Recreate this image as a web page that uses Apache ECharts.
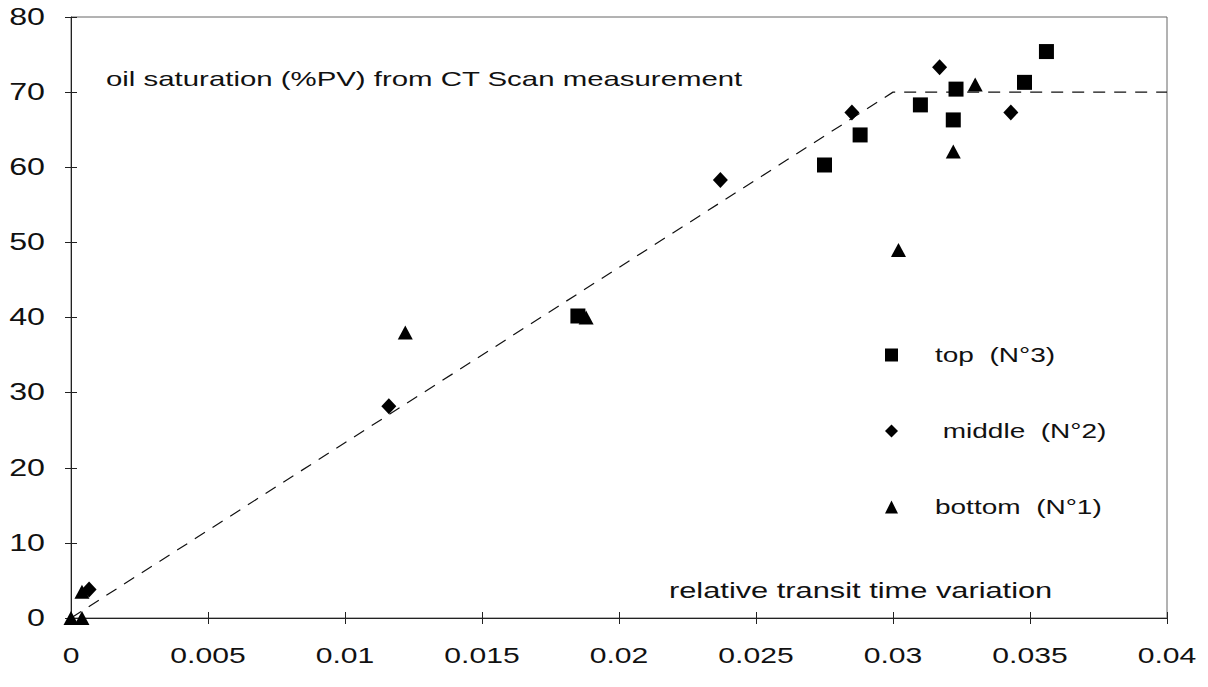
<!DOCTYPE html>
<html>
<head>
<meta charset="utf-8">
<script src="https://cdn.jsdelivr.net/npm/echarts@6/dist/echarts.min.js"></script>
<style>
html,body{margin:0;padding:0;background:#fff;}
#chart{width:1208px;height:687px;}
</style>
</head>
<body>
<div id="chart"></div>
<script>
// Data
var topN3 = [[0.0185,40.2],[0.0275,60.3],[0.0288,64.3],[0.0310,68.3],[0.0322,66.3],[0.0323,70.4],[0.0348,71.3],[0.0356,75.4]];
var middleN2 = [[0.00066,3.8],[0.0116,28.2],[0.0237,58.3],[0.0285,67.3],[0.0317,73.3],[0.0343,67.3]];
var bottomN1 = [[0,0],[0.0004,0],[0.0004,3.5],[0.0122,38.0],[0.0188,40.0],[0.0302,49.0],[0.0322,62.1],[0.0330,71.0]];
var trendLine = [[0,0],[0.03,70],[0.04,70]];
var seriesNames = ['top  (N°3)', ' middle  (N°2)', 'bottom  (N°1)'];
var xTicks = {min:0, max:0.04, interval:0.005};
var yTicks = {min:0, max:80, interval:10};
var annotationTop = 'oil saturation (%PV) from CT Scan measurement';
var annotationBottom = 'relative transit time variation';

var FONT = 'Liberation Sans, Arial, sans-serif';
var STRETCH = 1.4; // the reference text is drawn horizontally widened
var chart = echarts.init(document.getElementById('chart'), null, {renderer:'svg'});

function xFmt(v){ if (v === 0) return '0'; return String(+v.toFixed(3)); }

function stretchTexts(){
  var svg = document.querySelector('#chart svg');
  if (!svg) return;
  var suffix = ' scale(' + STRETCH + ' 1) ';
  svg.querySelectorAll('text').forEach(function(t){
    var tr = t.getAttribute('transform') || '';
    if (tr.indexOf(suffix) !== -1) return;
    var bb;
    try { bb = t.getBBox(); } catch (e) { return; }
    var anchor = t.getAttribute('text-anchor') || getComputedStyle(t).textAnchor || 'start';
    var px;
    if (anchor === 'end') px = bb.x + bb.width;
    else if (anchor === 'middle') px = bb.x + bb.width / 2;
    else px = bb.x;
    t.setAttribute('transform', tr + ' translate(' + px + ' 0)' + suffix + 'translate(' + (-px) + ' 0)');
  });
}
chart.on('finished', stretchTexts);

var option = {
  backgroundColor:'#ffffff',
  animation:false,
  grid:{left:71, right:41, top:17, bottom:69, show:true, borderColor:'#666', borderWidth:1},
  legend:{
    orient:'vertical', left:880, top:340, itemGap:56,
    itemWidth:13, itemHeight:13,
    data:[
      {name:seriesNames[0], icon:'rect'},
      {name:seriesNames[1], icon:'diamond'},
      {name:seriesNames[2], icon:'triangle'}
    ],
    textStyle:{fontFamily:FONT, fontSize:20, color:'#111', padding:[0,0,0,32]}
  },
  xAxis:[{
    type:'value', min:xTicks.min, max:xTicks.max, interval:xTicks.interval,
    splitLine:{show:false},
    axisLine:{onZero:false, lineStyle:{color:'#222', width:1}},
    axisTick:{show:true, length:6, lineStyle:{color:'#222'}},
    axisLabel:{fontFamily:FONT, fontSize:21.5, color:'#111', margin:27, formatter:xFmt}
  },{
    type:'value', min:xTicks.min, max:xTicks.max, interval:xTicks.interval, position:'bottom',
    splitLine:{show:false}, axisLine:{show:false},
    axisTick:{show:true, inside:true, length:6, lineStyle:{color:'#222'}},
    axisLabel:{show:false}
  }],
  yAxis:[{
    type:'value', min:yTicks.min, max:yTicks.max, interval:yTicks.interval,
    splitLine:{show:false},
    axisLine:{show:true, onZero:false, lineStyle:{color:'#222', width:1}},
    axisTick:{show:true, length:6, lineStyle:{color:'#222'}},
    axisLabel:{fontFamily:FONT, fontSize:23, color:'#111', margin:26}
  },{
    type:'value', min:yTicks.min, max:yTicks.max, interval:yTicks.interval, position:'left',
    splitLine:{show:false}, axisLine:{show:false},
    axisTick:{show:true, inside:true, length:6, lineStyle:{color:'#222'}},
    axisLabel:{show:false}
  }],
  series:[
    {
      type:'line', data:trendLine, symbol:'none', silent:true, z:1,
      lineStyle:{color:'#111', width:1.2, type:[12,9]}
    },
    {
      name:seriesNames[0], type:'scatter', data:topN3, symbol:'rect', symbolSize:15,
      itemStyle:{color:'#000', opacity:1}, z:3
    },
    {
      name:seriesNames[1], type:'scatter', data:middleN2, symbol:'diamond', symbolSize:[15,16],
      itemStyle:{color:'#000', opacity:1}, z:3
    },
    {
      name:seriesNames[2], type:'scatter', data:bottomN1, symbol:'triangle', symbolSize:[15,14],
      itemStyle:{color:'#000', opacity:1}, z:3
    }
  ],
  graphic:[
    {type:'text', left:106, top:68, style:{text:annotationTop, font:'21px ' + FONT, fill:'#111'}},
    {type:'text', left:669, top:580, style:{text:annotationBottom, font:'22px ' + FONT, fill:'#111'}}
  ]
};
chart.setOption(option);
stretchTexts();
setTimeout(stretchTexts, 50);
setTimeout(stretchTexts, 300);
</script>
</body>
</html>
